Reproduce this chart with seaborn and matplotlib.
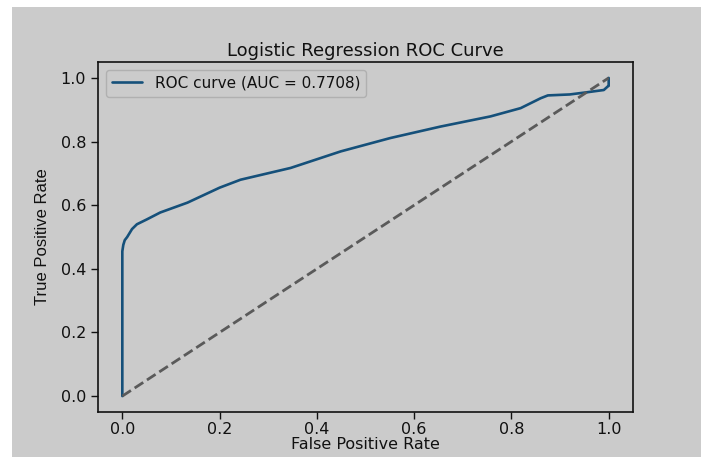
import matplotlib
matplotlib.use("Agg")
import matplotlib.pyplot as plt
import seaborn as sns
import pandas as pd
from matplotlib.patches import Rectangle

fpr = [0.0, 0.0, 0.002, 0.005, 0.01, 0.02, 0.03, 0.05, 0.078, 0.134, 0.2, 0.243,
       0.346, 0.449, 0.551, 0.654, 0.757, 0.819, 0.86, 0.875, 0.92, 0.956, 0.99,
       0.998, 1.0, 1.0]
tpr = [0.0, 0.455, 0.475, 0.49, 0.50, 0.525, 0.54, 0.555, 0.577, 0.608, 0.655, 0.68,
       0.717, 0.769, 0.811, 0.847, 0.879, 0.905, 0.936, 0.945, 0.948, 0.955, 0.962,
       0.973, 0.975, 1.0]
diag = [0.0, 1.0]
auc_label = "ROC curve (AUC = 0.7708)"
title = "Logistic Regression ROC Curve"

sns.set_style("ticks")
plt.rcParams['font.family'] = ['DejaVu Sans']

bg = "#cbcbcb"
W, H = 707, 457
fig = plt.figure(figsize=(W / 100, H / 100), dpi=100, facecolor="white")
fig.patches.append(Rectangle((12 / W, 0), 689 / W, (H - 7) / H,
                             transform=fig.transFigure, facecolor=bg,
                             edgecolor="none", zorder=-10))
ax = fig.add_axes([98 / W, 1 - 412 / H, (633 - 98) / W, (412 - 62) / H])
ax.set_zorder(5)
ax.set_facecolor(bg)

df = pd.DataFrame({"fpr": fpr, "tpr": tpr})
sns.lineplot(data=df, x="fpr", y="tpr", sort=False, estimator=None, ax=ax,
             color="#15507a", linewidth=1.9, label=auc_label)
sns.lineplot(x=diag, y=diag, ax=ax, color="#5a5a5a", linestyle="--",
             linewidth=2, sort=False, estimator=None)

ax.set_xlim(-0.05, 1.05)
ax.set_ylim(-0.05, 1.05)
ax.set_xticks([0.0, 0.2, 0.4, 0.6, 0.8, 1.0])
ax.set_yticks([0.0, 0.2, 0.4, 0.6, 0.8, 1.0])
ax.tick_params(labelsize=11.5, colors="#111111", length=5, width=1)
ax.tick_params(axis="x", pad=2)
for s in ax.spines.values():
    s.set_color("#111111")
    s.set_linewidth(1.2)

ax.set_title(title, fontsize=13, color="#111111", pad=4)
ax.set_xlabel("False Positive Rate", fontsize=11.5, color="#111111", labelpad=0)
ax.set_ylabel("True Positive Rate", fontsize=12, color="#111111", labelpad=8,
              family=['Liberation Sans Narrow', 'Liberation Sans', 'DejaVu Sans'])

leg = ax.legend(loc="upper left", fontsize=11, frameon=True, fancybox=True)
leg.get_frame().set_facecolor(bg)
leg.get_frame().set_edgecolor("#aaaaaa")
for t in leg.get_texts():
    t.set_color("#111111")

fig.savefig("out.png", dpi=100, facecolor="white")
